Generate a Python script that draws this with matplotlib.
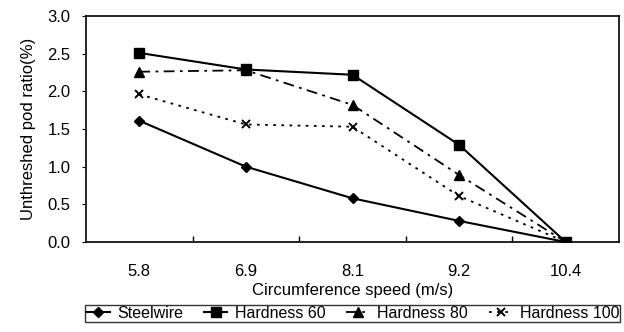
import matplotlib.pyplot as plt

plt.rcParams['font.family'] = ['Liberation Sans', 'DejaVu Sans']

velocidades = ["5.8", "6.9", "8.1", "9.2", "10.4"]
steelwire = [1.61, 1.00, 0.58, 0.28, 0.0]
hardness_60 = [2.51, 2.29, 2.22, 1.29, 0.0]
hardness_80 = [2.26, 2.28, 1.82, 0.89, 0.0]
hardness_100 = [1.96, 1.56, 1.53, 0.61, 0.0]

fig = plt.figure(figsize=(6.24, 3.32), dpi=100)
ax = fig.add_axes([86 / 624, 1 - 242 / 332, 533 / 624, 226 / 332])

x = range(len(velocidades))
ax.plot(x, steelwire, color="black", lw=1.5, marker="D", ms=5.5, label="Steelwire")
ax.plot(x, hardness_60, color="black", lw=1.5, marker="s", ms=6.5, label="Hardness 60")
ax.plot(x, hardness_80, color="black", lw=1.3, ls=(0, (6, 3, 1.5, 3)),
        marker="^", ms=6.5, label="Hardness 80")
ax.plot(x, hardness_100, color="black", lw=1.3, ls=(0, (1.5, 3)),
        marker="x", ms=6, mew=1.4, label="Hardness 100")

ax.set_xlim(-0.5, len(velocidades) - 0.5)
ax.set_ylim(0, 3.0)
ax.set_yticks([0, 0.5, 1.0, 1.5, 2.0, 2.5, 3.0])
ax.set_yticklabels([f"{v:.1f}" for v in ax.get_yticks()])

# rótulos nas categorias, ticks nas divisas (estilo Excel)
ax.set_xticks(list(x))
ax.set_xticklabels(velocidades)
ax.tick_params(axis="x", length=0, pad=16, labelsize=12)
ax.set_xticks([i + 0.5 for i in range(len(velocidades) - 1)], minor=True)
ax.tick_params(axis="x", which="minor", direction="in", length=4, width=1)
ax.tick_params(axis="y", direction="out", length=3, pad=8, labelsize=12)

for s in ax.spines.values():
    s.set_linewidth(1.2)

ax.set_xlabel("Circumference speed (m/s)", fontsize=12, labelpad=3)
ax.set_ylabel("Unthreshed pod ratio(%)", fontsize=12, labelpad=8)

leg = ax.legend(loc="upper center", bbox_to_anchor=(0.5, -0.28), ncol=4,
                frameon=True, fancybox=False, edgecolor="black", fontsize=11.5,
                handlelength=1.5, handletextpad=0.45, columnspacing=1.3,
                borderpad=0.05, borderaxespad=0)
leg.get_frame().set_linewidth(1.0)

fig.savefig("out.png", dpi=100)
